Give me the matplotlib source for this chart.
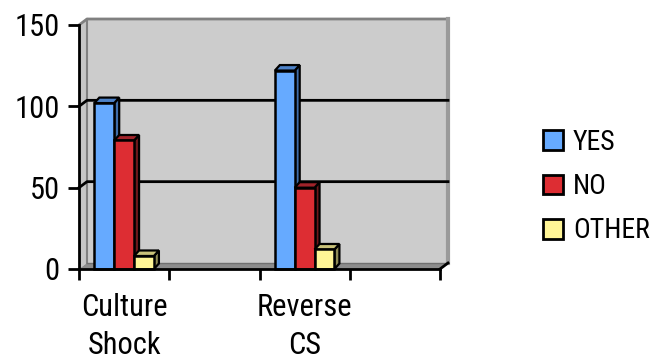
import matplotlib
matplotlib.use("Agg")
import matplotlib.pyplot as plt
from matplotlib.patches import Polygon, Patch

plt.rcParams['font.family'] = ['Roboto Condensed', 'Liberation Sans Narrow', 'Open Sans Condensed',
                               'Liberation Sans', 'DejaVu Sans']

# Chart data
categories = ["Culture\nShock", "Reverse\nCS"]
category_slots = [0, 2]          # position of each category on a 4-slot axis
n_slots = 4
series_names = ["YES", "NO", "OTHER"]
yes_values = [102, 122]
no_values = [79, 50]
other_values = [8, 12]
y_ticks = [0, 50, 100, 150]

series_values = [yes_values, no_values, other_values]
front_colors = ["#66AAFF", "#DD2D33", "#FFF596"]
side_colors = ["#3F6DAA", "#6E181B", "#8E8A55"]
top_colors = ["#4D82C8", "#A0232A", "#C9C27A"]

W, H, DPI = 653, 360, 100
fig = plt.figure(figsize=(W / DPI, H / DPI), dpi=DPI)
ax = fig.add_axes([79 / W, 1 - 269 / H, 361 / W, 244 / H])
ax.set_xlim(0, n_slots)
ax.set_ylim(0, 150)
ax.patch.set_visible(False)
for name, sp in ax.spines.items():
    sp.set_visible(name in ("left", "bottom"))
    sp.set_linewidth(2)
    sp.set_color("black")
    sp.set_zorder(6)


def px(dx, dy):
    """Screen offset in pixels -> offset in data units."""
    x0, y0 = ax.transData.transform((0, 0))
    x1, y1 = ax.transData.inverted().transform((x0 + dx, y0 + dy))
    return x1, y1


wx, wy = px(8, 6)      # depth of the chart walls
bx, by = px(5, 5.5)    # depth of the columns
ymax = 150

# walls and floor
ax.add_patch(Polygon([(wx, wy), (n_slots + wx, wy), (n_slots + wx, ymax + wy), (wx, ymax + wy)],
                     closed=True, fc="#CCCCCC", ec="none", zorder=0, clip_on=False))
ax.add_patch(Polygon([(0, 0), (wx, wy), (wx, ymax + wy), (0, ymax)],
                     closed=True, fc="#C6C6C6", ec="none", zorder=0, clip_on=False))
ax.add_patch(Polygon([(0, 0), (n_slots, 0), (n_slots + wx, wy), (wx, wy)],
                     closed=True, fc="#8C8C8C", ec="none", zorder=0.5, clip_on=False))
ax.plot([0, wx, n_slots + wx], [ymax, ymax + wy, ymax + wy], color="#808080", lw=2,
        zorder=1, clip_on=False, solid_capstyle="butt")
ax.plot([n_slots + wx, n_slots + wx], [ymax + wy, wy], color="#9A9A9A", lw=3,
        zorder=1, clip_on=False)
ax.plot([wx, wx], [wy, ymax + wy], color="#808080", lw=1.5, zorder=1, clip_on=False)
ax.plot([wx, n_slots + wx], [wy, wy], color="#707070", lw=1, zorder=1, clip_on=False)

# gridlines running along the side wall and the back wall
for v in y_ticks[1:-1]:
    ax.plot([0, wx, n_slots + wx], [v, v + wy, v + wy], color="black", lw=2,
            zorder=1.5, clip_on=False)

# floor edge at the right end
ax.plot([n_slots, n_slots + wx], [0, wy], color="black", lw=2, zorder=6, clip_on=False)

# columns
bw = 0.22
for gi, slot in enumerate(category_slots):
    center = slot + 0.5
    for si, vals in enumerate(series_values):
        v = vals[gi]
        x0 = center - 1.5 * bw + si * bw
        x1 = x0 + bw
        z = 3 + gi + si * 0.1
        ax.add_patch(Polygon([(x1, 0), (x1 + bx, by), (x1 + bx, v + by), (x1, v)], closed=True,
                             fc=side_colors[si], ec="black", lw=1.6, zorder=z, clip_on=False,
                             joinstyle="miter"))
        ax.add_patch(Polygon([(x0, v), (x1, v), (x1 + bx, v + by), (x0 + bx, v + by)], closed=True,
                             fc=top_colors[si], ec="black", lw=1.6, zorder=z, clip_on=False,
                             joinstyle="miter"))
        ax.bar([x0], [v], width=bw, align="edge", color=front_colors[si], edgecolor="black",
               linewidth=1.8, zorder=z + 0.01, clip_on=False)

# axes ticks and labels
ax.set_yticks(y_ticks)
ax.set_yticklabels([str(t) for t in y_ticks], fontsize=22)
ax.tick_params(axis="y", direction="out", length=8, width=2, pad=6, color="black")
ax.set_xticks(range(n_slots + 1))
ax.set_xticklabels([])
ax.tick_params(axis="x", which="major", direction="out", length=8, width=2, color="black")
ax.set_xticks([s + 0.5 for s in category_slots], minor=True)
ax.set_xticklabels(categories, minor=True, fontsize=22, linespacing=1.42)
ax.tick_params(axis="x", which="minor", length=0, pad=17)

# legend
handles = [Patch(facecolor=c, edgecolor="black", linewidth=2) for c in front_colors]
fig.legend(handles, series_names, loc="upper left", bbox_to_anchor=(518 / W, 1 - 104 / H),
           frameon=False, fontsize=20, handlelength=0.72, handleheight=0.72,
           handletextpad=0.36, labelspacing=0.62)

fig.savefig("out.png", dpi=DPI)
